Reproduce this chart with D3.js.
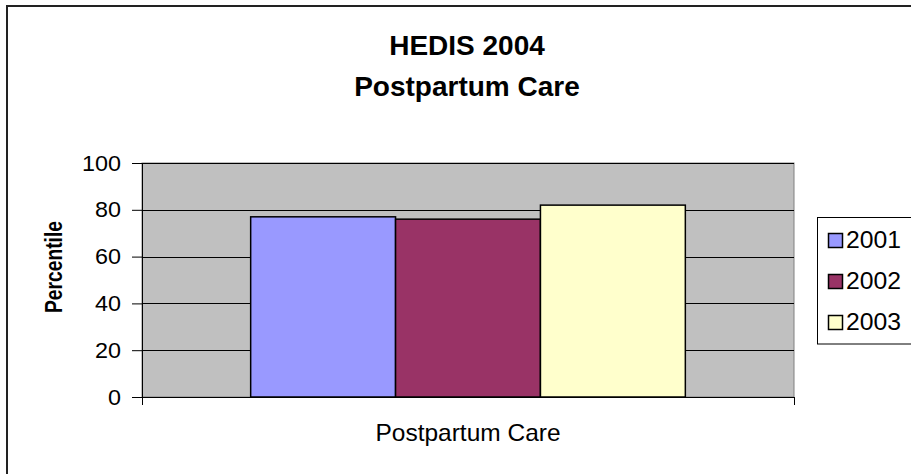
<!DOCTYPE html>
<html>
<head>
<meta charset="utf-8">
<script src="https://cdn.jsdelivr.net/npm/d3@7/dist/d3.min.js"></script>
<style>
  html, body { margin: 0; padding: 0; background: #fff; overflow: hidden; }
  text { font-family: Arial, "Liberation Sans", sans-serif; fill: #000; }
</style>
</head>
<body>
<div id="chart"></div>
<script>
const titleLines = ["HEDIS 2004", "Postpartum Care"];
const categories = ["Postpartum Care"];
const seriesNames = ["2001", "2002", "2003"];
const seriesValues = [77, 76, 82];
const seriesColors = ["#9999FF", "#993366", "#FFFFCC"];
const yTicks = [0, 20, 40, 60, 80, 100];
const yLabel = "Percentile";

const width = 911, height = 474;
const plot = { left: 142, right: 794, top: 163, bottom: 397 };

const svg = d3.select("#chart").append("svg")
    .attr("width", width)
    .attr("height", height);

// outer chart frame (runs off the right and bottom edge)
svg.append("rect")
    .attr("x", 7).attr("y", 6)
    .attr("width", 930).attr("height", 490)
    .attr("fill", "#fff")
    .attr("stroke", "#222")
    .attr("stroke-width", 2);

// title
svg.selectAll("text.title")
    .data(titleLines)
    .enter().append("text")
    .attr("class", "title")
    .attr("x", 467)
    .attr("y", (d, i) => 55 + i * 41)
    .attr("text-anchor", "middle")
    .attr("font-size", 28)
    .attr("font-weight", "bold")
    .text(d => d);

const y = d3.scaleLinear().domain([0, 100]).range([plot.bottom, plot.top]);
const x0 = d3.scaleBand().domain(categories)
    .range([plot.left, plot.right])
    .paddingInner(0).paddingOuter(0.25);
const x1 = d3.scaleBand().domain(seriesNames)
    .range([0, x0.bandwidth()]).padding(0);
const color = d3.scaleOrdinal().domain(seriesNames).range(seriesColors);

// plot area
svg.append("rect")
    .attr("x", plot.left).attr("y", plot.top)
    .attr("width", plot.right - plot.left)
    .attr("height", plot.bottom - plot.top)
    .attr("fill", "#C0C0C0")
    .attr("stroke", "#808080")
    .attr("stroke-width", 1);

// gridlines
svg.append("g")
    .selectAll("line")
    .data(yTicks.filter(t => t > 0))
    .enter().append("line")
    .attr("x1", plot.left).attr("x2", plot.right)
    .attr("y1", d => Math.round(y(d)) + 0.5)
    .attr("y2", d => Math.round(y(d)) + 0.5)
    .attr("stroke", "#000")
    .attr("stroke-width", 1);

// bars
const groups = svg.append("g")
    .selectAll("g")
    .data(categories)
    .enter().append("g")
    .attr("transform", d => `translate(${x0(d)},0)`);

groups.selectAll("rect")
    .data(() => seriesNames.map((s, i) => ({ key: s, value: seriesValues[i] })))
    .enter().append("rect")
    .attr("x", d => x1(d.key))
    .attr("y", d => y(d.value))
    .attr("width", x1.bandwidth())
    .attr("height", d => y(0) - y(d.value))
    .attr("fill", d => color(d.key))
    .attr("stroke", "#000")
    .attr("stroke-width", 1.5);

// y axis
const yAxis = svg.append("g")
    .attr("transform", `translate(${plot.left},0)`)
    .call(d3.axisLeft(y).tickValues(yTicks).tickSize(10).tickPadding(11).tickSizeOuter(0));
yAxis.select(".domain").attr("stroke", "#000");
yAxis.selectAll(".tick line").attr("stroke", "#000");
yAxis.selectAll(".tick text")
    .attr("font-size", 22)
    .attr("font-family", "Arial, 'Liberation Sans', sans-serif")
    .attr("textLength", d => String(d).length * 13)
    .attr("lengthAdjust", "spacingAndGlyphs");

// x axis
const xAxis = svg.append("g")
    .attr("transform", `translate(0,${plot.bottom})`)
    .call(d3.axisBottom(x0).tickSize(0).tickPadding(27).tickSizeOuter(0));
xAxis.select(".domain").attr("stroke", "#000");
xAxis.selectAll(".tick text")
    .attr("font-size", 24)
    .attr("font-family", "Arial, 'Liberation Sans', sans-serif")
    .attr("textLength", 185)
    .attr("lengthAdjust", "spacingAndGlyphs");

// category boundary ticks
xAxis.selectAll("line.edge")
    .data(x0.range())
    .enter().append("line")
    .attr("class", "edge")
    .attr("x1", d => d + 0.5).attr("x2", d => d + 0.5)
    .attr("y1", 0).attr("y2", 8)
    .attr("stroke", "#000");

// y axis title
svg.append("text")
    .attr("transform", "translate(62,267) rotate(-90)")
    .attr("text-anchor", "middle")
    .attr("font-size", 23)
    .attr("font-weight", "bold")
    .attr("textLength", 92)
    .attr("lengthAdjust", "spacingAndGlyphs")
    .text(yLabel);

// legend
const legend = svg.append("g");
legend.append("rect")
    .attr("x", 817.5).attr("y", 217.5)
    .attr("width", 120).attr("height", 126.5)
    .attr("fill", "#fff")
    .attr("stroke", "#000")
    .attr("stroke-width", 1);

const items = legend.selectAll("g.item")
    .data(seriesNames)
    .enter().append("g")
    .attr("class", "item")
    .attr("transform", (d, i) => `translate(0,${i * 41})`);

items.append("rect")
    .attr("x", 828.5).attr("y", 233.5)
    .attr("width", 14).attr("height", 14)
    .attr("fill", d => color(d))
    .attr("stroke", "#000")
    .attr("stroke-width", 1.5);

items.append("text")
    .attr("x", 846)
    .attr("y", 248)
    .attr("font-size", 23)
    .attr("textLength", 55)
    .attr("lengthAdjust", "spacingAndGlyphs")
    .text(d => d);
</script>
</body>
</html>
